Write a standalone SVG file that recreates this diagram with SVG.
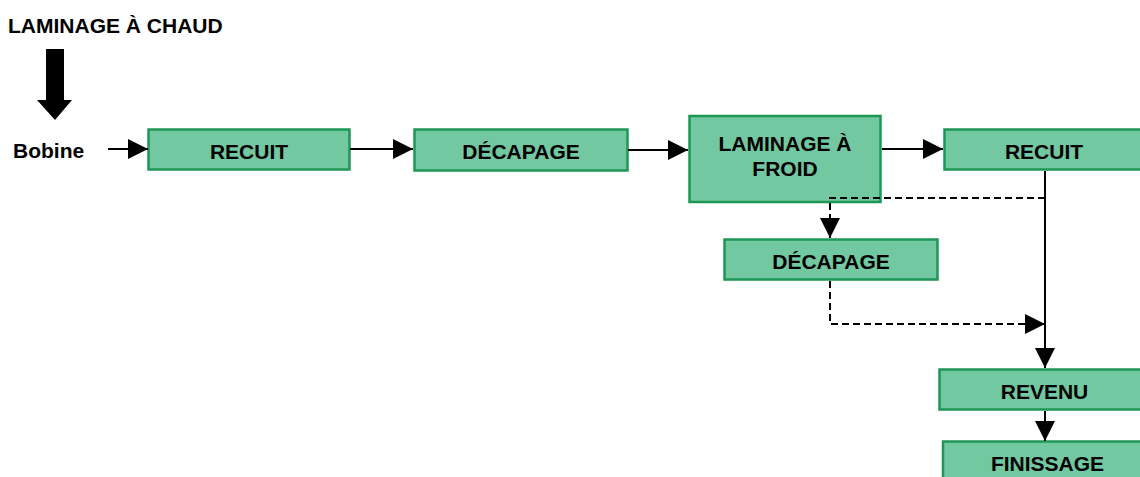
<svg xmlns="http://www.w3.org/2000/svg" width="1140" height="477" viewBox="0 0 1140 477">
<style>
.box{fill:#72c8a0;stroke:#1e9656;stroke-width:2.5}
.t{font-family:"Liberation Sans",Arial,sans-serif;font-weight:bold;font-size:21px;fill:#000}
.c{text-anchor:middle}
.ln{fill:none;stroke:#000;stroke-width:2}
.d{stroke-dasharray:7 4}
</style>
<defs>
<marker id="ah" markerUnits="userSpaceOnUse" markerWidth="20" markerHeight="20" refX="20" refY="10" orient="auto">
<path d="M0,0 L20,10 L0,20 z" fill="#000"/>
</marker>
</defs>
<text class="t" x="8" y="33">LAMINAGE À CHAUD</text>
<polygon points="46,49 64,49 64,100 72,100 55,120 37,100 46,100" fill="#000"/>
<text class="t" x="13" y="158">Bobine</text>
<g id="recuit1"><rect class="box" x="148.5" y="129.5" width="201" height="40"/><text class="t c" x="249" y="159">RECUIT</text></g>
<g id="decapage1"><rect class="box" x="414.5" y="129.5" width="213" height="41"/><text class="t c" x="521" y="159">DÉCAPAGE</text></g>
<g id="laminage-froid"><rect class="box" x="689.5" y="116" width="191" height="86"/><text class="t c" x="785" y="151">LAMINAGE À</text><text class="t c" x="785" y="176">FROID</text></g>
<g id="recuit2"><rect class="box" x="944.5" y="129.5" width="200" height="40"/><text class="t c" x="1044" y="159">RECUIT</text></g>
<g id="decapage2"><rect class="box" x="724.5" y="239.5" width="213" height="40"/><text class="t c" x="831" y="269">DÉCAPAGE</text></g>
<g id="revenu"><rect class="box" x="939.5" y="369.5" width="212" height="40"/><text class="t c" x="1044.5" y="399">REVENU</text></g>
<g id="finissage"><rect class="box" x="943" y="441.5" width="210" height="40"/><text class="t c" x="1047.5" y="471">FINISSAGE</text></g>
<g id="connectors">
<path class="ln" d="M108,149 H148" marker-end="url(#ah)"/>
<path class="ln" d="M350,149 H413" marker-end="url(#ah)"/>
<path class="ln" d="M628,150 H688" marker-end="url(#ah)"/>
<path class="ln" d="M882,149 H943" marker-end="url(#ah)"/>
<path class="ln" d="M1045,171 V368" marker-end="url(#ah)"/>
<path class="ln" d="M1045,411 V441" marker-end="url(#ah)"/>
<path class="ln d" d="M1045,198 H830 V238" marker-end="url(#ah)"/>
<path class="ln d" d="M830,281 V324 H1045" marker-end="url(#ah)"/>
</g>
</svg>
